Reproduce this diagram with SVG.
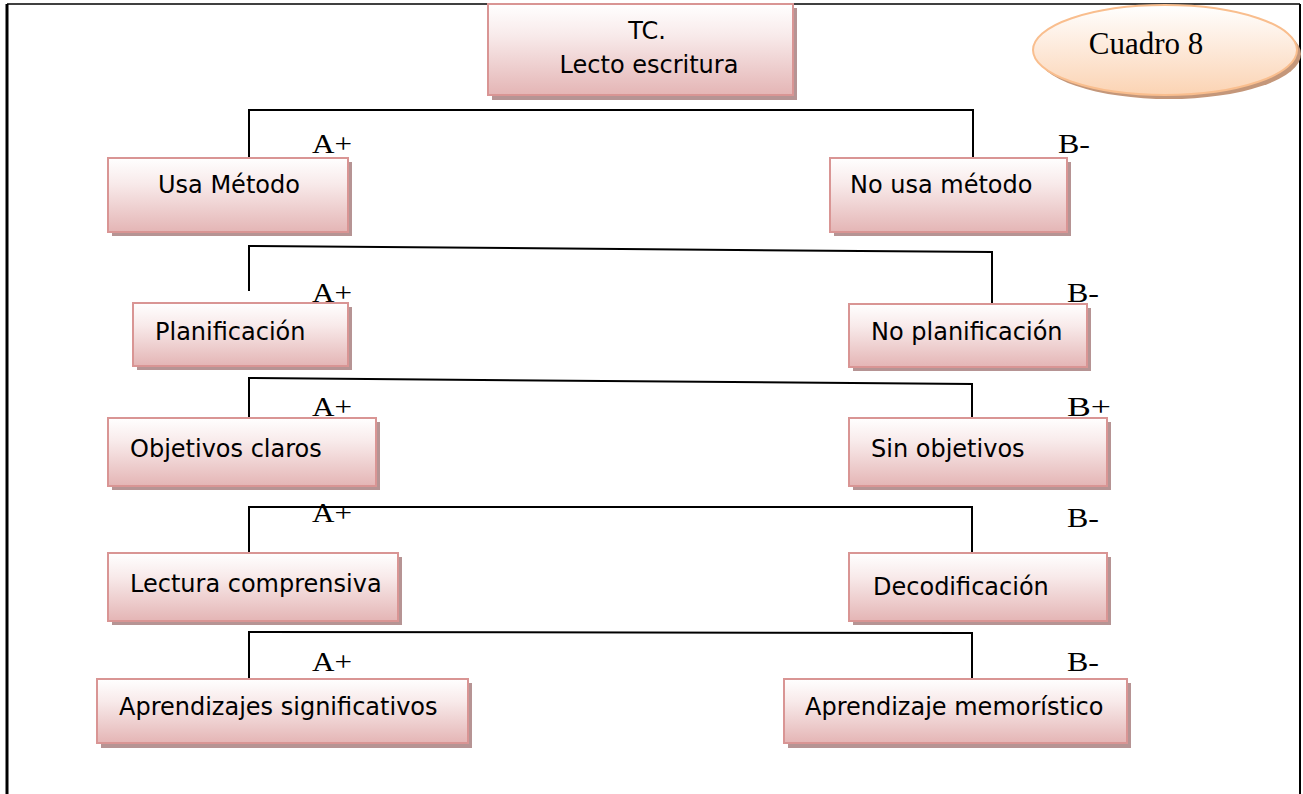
<svg xmlns="http://www.w3.org/2000/svg" width="1303" height="794" viewBox="0 0 1303 794">
<defs>
<linearGradient id="pink" x1="0" y1="0" x2="0" y2="1">
<stop offset="0" stop-color="#ffffff"/>
<stop offset="0.35" stop-color="#f8eaea"/>
<stop offset="1" stop-color="#e4b5b5"/>
</linearGradient>
<linearGradient id="peach" x1="0" y1="0" x2="0" y2="1">
<stop offset="0" stop-color="#ffffff"/>
<stop offset="1" stop-color="#fbd3b3"/>
</linearGradient>
<style>
.box{fill:url(#pink);stroke:#d99594;stroke-width:2}
.sh{fill:#b69494}
.t{font-family:"DejaVu Sans",Verdana,sans-serif;font-size:24px;fill:#000}
.lb{font-family:"Liberation Serif","Times New Roman",serif;font-size:27px;fill:#000}
.cn{fill:none;stroke:#000;stroke-width:2}
</style>
</defs>
<rect x="0" y="0" width="1303" height="794" fill="#fff"/>
<g id="frame">
<line x1="7" y1="4" x2="1300" y2="4" stroke="#000" stroke-width="1.5"/>
<line x1="7" y1="4" x2="7" y2="794" stroke="#000" stroke-width="3"/>
<line x1="1300" y1="4" x2="1300" y2="794" stroke="#000" stroke-width="2"/>
</g>
<g id="connectors">
<path class="cn" d="M249 158 V110 H973 V158"/>
<path class="cn" d="M249 291 V246 L992 252 V303"/>
<path class="cn" d="M249 418 V378 L972 384 V418"/>
<path class="cn" d="M249 553 V507 H972 V553"/>
<path class="cn" d="M249 679 V632 L972 633 V679"/>
</g>
<g id="labels">
<text class="lb" x="312" y="153" textLength="40" lengthAdjust="spacingAndGlyphs">A+</text>
<text class="lb" x="1058" y="153" textLength="32" lengthAdjust="spacingAndGlyphs">B-</text>
<text class="lb" x="312" y="302" textLength="40" lengthAdjust="spacingAndGlyphs">A+</text>
<text class="lb" x="1067" y="302" textLength="32" lengthAdjust="spacingAndGlyphs">B-</text>
<text class="lb" x="312" y="416" textLength="40" lengthAdjust="spacingAndGlyphs">A+</text>
<text class="lb" x="1067" y="416" textLength="44" lengthAdjust="spacingAndGlyphs">B+</text>
<text class="lb" x="312" y="522" textLength="40" lengthAdjust="spacingAndGlyphs">A+</text>
<text class="lb" x="1067" y="527" textLength="32" lengthAdjust="spacingAndGlyphs">B-</text>
<text class="lb" x="312" y="671" textLength="40" lengthAdjust="spacingAndGlyphs">A+</text>
<text class="lb" x="1067" y="671" textLength="32" lengthAdjust="spacingAndGlyphs">B-</text>
</g>
<g id="n-tc">
<rect class="sh" x="492" y="8" width="305" height="92"/>
<rect class="box" x="488" y="4" width="305" height="91"/>
<text class="t" x="647" y="39" text-anchor="middle">TC.</text>
<text class="t" x="649" y="73" text-anchor="middle">Lecto escritura</text>
</g>
<g id="n-cuadro">
<ellipse cx="1169" cy="54" rx="132" ry="45" fill="#c4977a"/>
<ellipse cx="1165" cy="50" rx="132" ry="45" fill="url(#peach)" stroke="#f9be8e" stroke-width="2"/>
<text x="1146" y="54" text-anchor="middle" font-family="Liberation Serif, Times New Roman, serif" font-size="31">Cuadro 8</text>
</g>
<g id="n-usa">
<rect class="sh" x="112" y="162" width="240" height="74"/>
<rect class="box" x="108" y="158" width="240" height="74"/>
<text class="t" x="158" y="193">Usa Método</text>
</g>
<g id="n-nousa">
<rect class="sh" x="834" y="162" width="237" height="74"/>
<rect class="box" x="830" y="158" width="237" height="74"/>
<text class="t" x="850" y="193">No usa método</text>
</g>
<g id="n-plan">
<rect class="sh" x="137" y="307" width="215" height="63"/>
<rect class="box" x="133" y="303" width="215" height="63"/>
<text class="t" x="155" y="340">Planificación</text>
</g>
<g id="n-noplan">
<rect class="sh" x="853" y="308" width="238" height="63"/>
<rect class="box" x="849" y="304" width="238" height="63"/>
<text class="t" x="871" y="340">No planificación</text>
</g>
<g id="n-obj">
<rect class="sh" x="112" y="422" width="268" height="68"/>
<rect class="box" x="108" y="418" width="268" height="68"/>
<text class="t" x="130" y="457">Objetivos claros</text>
</g>
<g id="n-sinobj">
<rect class="sh" x="853" y="422" width="258" height="68"/>
<rect class="box" x="849" y="418" width="258" height="68"/>
<text class="t" x="871" y="457">Sin objetivos</text>
</g>
<g id="n-lect">
<rect class="sh" x="112" y="557" width="290" height="68"/>
<rect class="box" x="108" y="553" width="290" height="68"/>
<text class="t" x="130" y="592">Lectura comprensiva</text>
</g>
<g id="n-deco">
<rect class="sh" x="853" y="557" width="258" height="68"/>
<rect class="box" x="849" y="553" width="258" height="68"/>
<text class="t" x="873" y="595">Decodificación</text>
</g>
<g id="n-aprsig">
<rect class="sh" x="101" y="683" width="371" height="65"/>
<rect class="box" x="97" y="679" width="371" height="64"/>
<text class="t" x="119" y="715">Aprendizajes significativos</text>
</g>
<g id="n-aprmem">
<rect class="sh" x="788" y="683" width="343" height="65"/>
<rect class="box" x="784" y="679" width="343" height="64"/>
<text class="t" x="805" y="715">Aprendizaje memorístico</text>
</g>
</svg>
